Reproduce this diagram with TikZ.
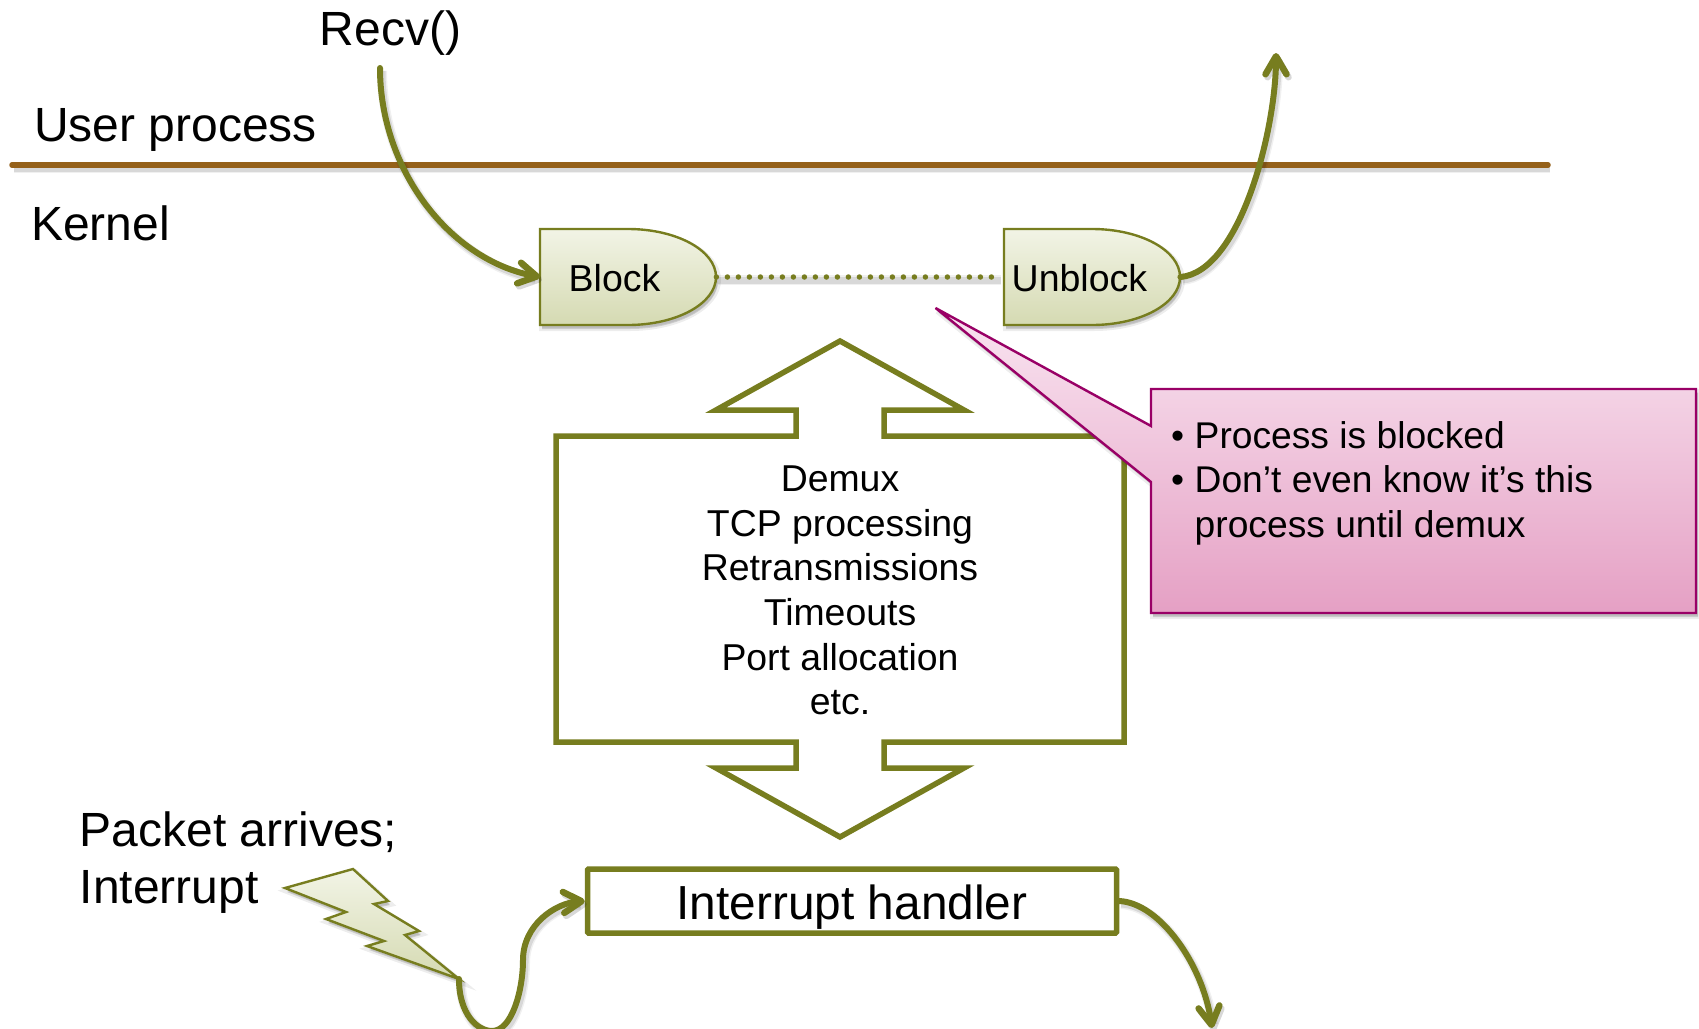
\documentclass[tikz,border=0pt]{standalone}
\usepackage{fontspec}
\setmainfont{Liberation Sans}
\usetikzlibrary{arrows.meta}
\definecolor{olive}{HTML}{777D1F}
\definecolor{brownline}{HTML}{95611A}
\definecolor{shapetop}{HTML}{F2F4E6}
\definecolor{shapebot}{HTML}{D5DAB2}
\definecolor{calltop}{HTML}{F9E5F1}
\definecolor{callbot}{HTML}{E5A0C4}
\definecolor{callline}{HTML}{990066}
\newcommand\fs[2]{\fontsize{#1}{#2}\selectfont}
\newcommand\gateoutline[1]{%
  \begin{scope}[shift={(#1,229)}]
    \path[softfill,draw=olive,line width=2.4pt,top color=shapetop,bottom color=shapebot]
      (0,0) -- (88,0) .. controls (136.6,0) and (176,21.5) .. (176,48)
      .. controls (176,74.5) and (136.6,96) .. (88,96) -- (0,96) -- cycle;
  \end{scope}}
\tikzset{
  softfill/.style={
    preaction={fill=black,fill opacity=.07,draw=black,draw opacity=.07,line width=6pt,transform canvas={xshift=2pt,yshift=-3pt}},
    preaction={fill=black,fill opacity=.14,transform canvas={xshift=2pt,yshift=-4pt}}},
  softline/.style={
    preaction={draw=black,opacity=.06,line width=10pt,transform canvas={xshift=2pt,yshift=-3pt}},
    preaction={draw=black,opacity=.10,line width=7pt,transform canvas={xshift=2pt,yshift=-3pt}}},
  label48/.style={inner sep=0pt,anchor=base west,font=\fs{48}{57}},
  gatebox/.style={inner sep=0pt,anchor=west,text width=176pt,minimum height=96pt,align=left,text height=28pt,text depth=0pt,font=\fs{37.5}{45}},
  barb/.style={-{Straight Barb[length=18pt,width=21pt,line width=6.5pt,round]}},
  flow/.style={draw=olive,line width=6pt,line cap=round},
  outlinebox/.style={draw=olive,line width=5.5pt,miter limit=10},
  handlerbox/.style={draw=olive,line width=5.5pt,rounded corners=1pt,inner sep=0pt,minimum width=529pt,minimum height=64pt,
    font=\fs{47.8}{57},text depth=0pt,text height=37pt},
}
\begin{document}
\begin{tikzpicture}[x=1pt,y=-1pt]
\useasboundingbox (0,0) rectangle (1699,1028);
\clip (0,0) rectangle (1699,1028);

% coordinates for free ends
\coordinate (recvstart) at (380,68);
\coordinate (uptip) at (1276,53);
\coordinate (downtip) at (1212,1028);
\coordinate (sparktip) at (459,979);
\coordinate (linel) at (12,165);
\coordinate (liner) at (1548,165);

% boundary line
\draw[softline,draw=brownline,line width=5.5pt,line cap=round] (linel) -- (liner);

% labels
\node[label48] (recv) at (319.5,45) {Recv()};
\node[label48] (user) at (34,141) {User process};
\node[label48] (kernel) at (31,240) {Kernel};

% gates
\gateoutline{540}
\gateoutline{1004}
\node[gatebox] (block) at (540,277) {\hspace*{28.5pt}Block};
\node[gatebox] (unblock) at (1004,277) {\hspace*{7.5pt}Unblock};

% dotted link
\draw[softline,draw=olive,line width=5.5pt,line cap=round,dash pattern=on 0pt off 11pt,shorten >=5pt] (block.east) -- (unblock.west);

% flows
\draw[softline,flow,barb] (recvstart) .. controls (380,170) and (450,260) .. (block.west);
\draw[softline,flow,barb] (unblock.east) .. controls (1240,272) and (1276,130) .. (uptip);

% double arrow box
\draw[outlinebox] (840,341) -- (964,410) -- (884,410) -- (884,436) -- (1124,436) -- (1124,742)
  -- (884,742) -- (884,768) -- (964,768) -- (840,837) -- (716,768) -- (796,768) -- (796,742)
  -- (556,742) -- (556,436) -- (796,436) -- (796,410) -- (716,410) -- cycle;
\node[inner sep=0pt,align=center,font=\fs{37.4}{44.7}] (tasks) at (840,590.5)
  {Demux\\TCP processing\\Retransmissions\\Timeouts\\Port allocation\\etc.};

% callout
\path[softfill,draw=callline,line width=2.4pt,top color=calltop,bottom color=callbot]
  (1151,389) -- (1696,389) -- (1696,613) -- (1151,613) -- (1151,482) -- (935.5,308) -- (1151,426) -- cycle;
\node[inner sep=0pt,anchor=north west,align=left,font=\fs{37.2}{44.7}] (notes) at (1171,421)
  {\makebox[23.5pt][l]{•}Process is blocked\\\makebox[23.5pt][l]{•}Don’t even know it’s this\\\hspace*{23.5pt}process until demux};

% interrupt side
\node[inner sep=0pt,anchor=north west,align=left,font=\fs{48}{57}] (packet) at (79.5,812)
  {Packet arrives;\\Interrupt};
\path[softfill,draw=olive,line width=2.4pt,line join=miter,top color=shapetop,bottom color=shapebot]
  (285,888) -- (353,869) -- (388,901) -- (374,904) -- (419,931) -- (405,935) -- (sparktip)
  -- (367,946) -- (384,941) -- (326,919) -- (346,912) -- cycle;
\node[handlerbox] (handler) at (852,901) {Interrupt handler};
\draw[softline,flow,barb] (sparktip) .. controls (459,1015) and (478,1031) .. (492,1031)
  .. controls (512,1031) and (523,990) .. (523,960)
  .. controls (523,925) and (555,903) .. (handler.west);
\draw[softline,flow,barb] (handler.east) .. controls (1160,903) and (1203,965) .. (downtip);
\end{tikzpicture}
\end{document}
